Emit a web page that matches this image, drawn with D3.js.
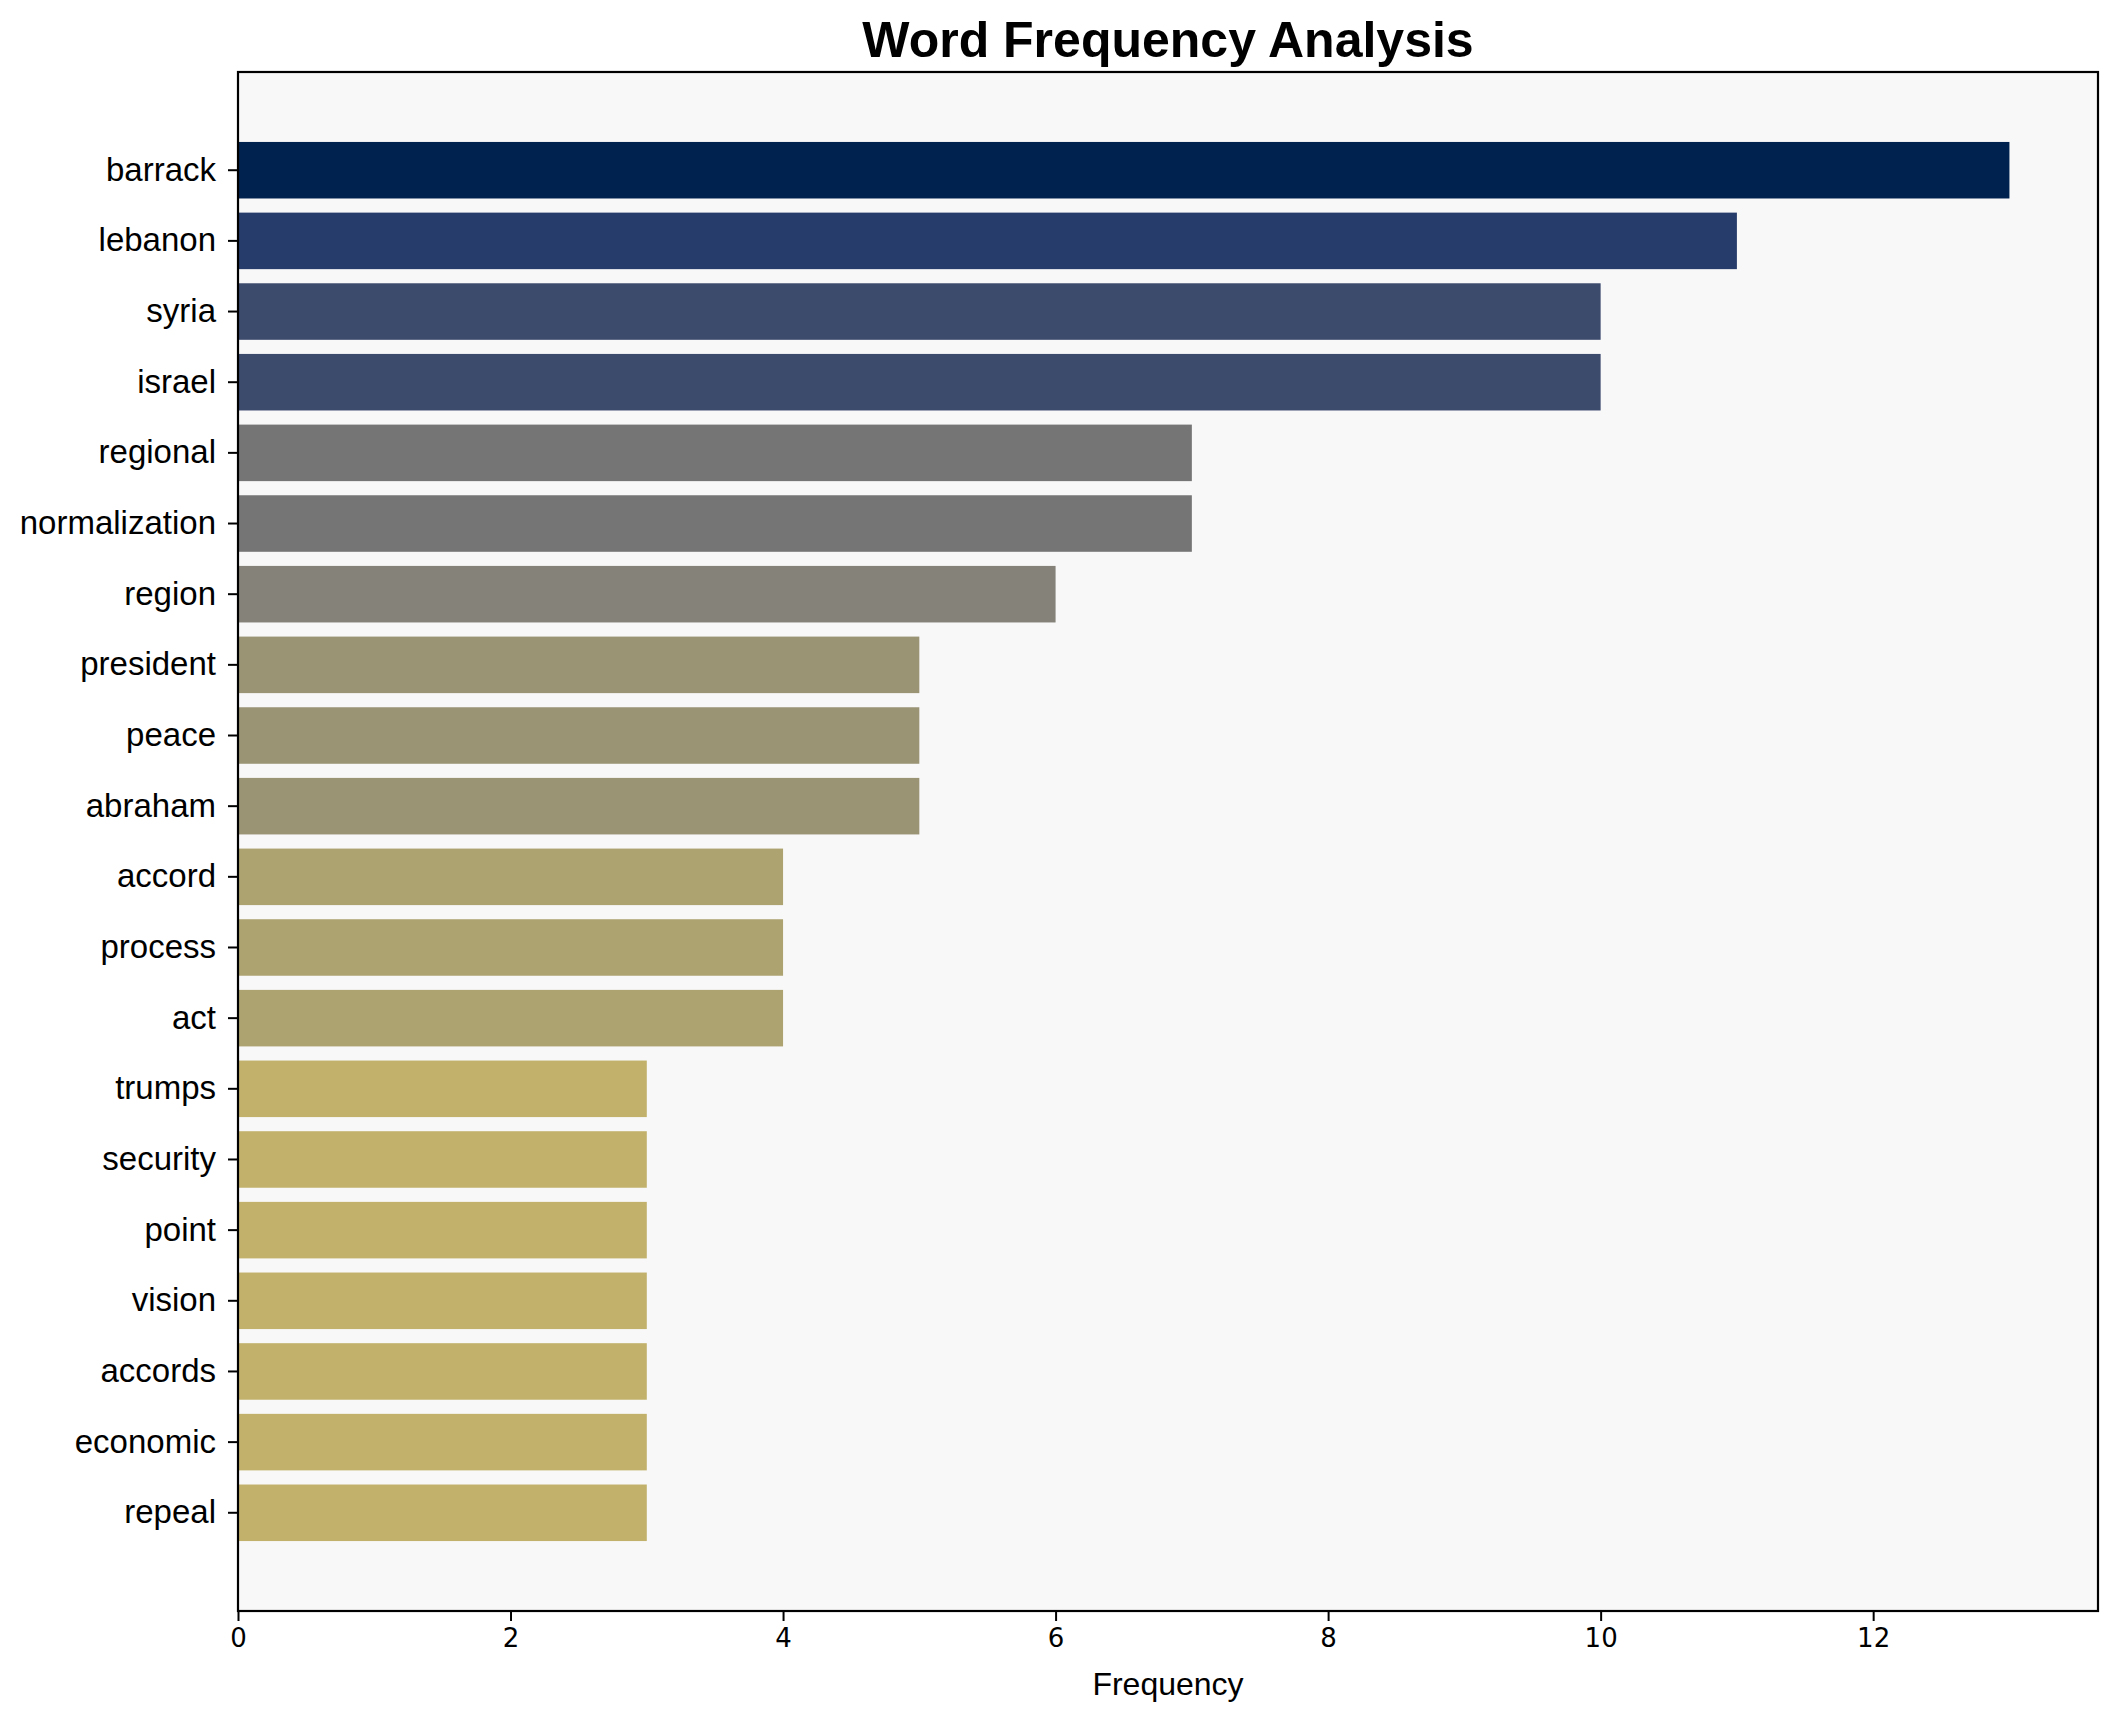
<!DOCTYPE html>
<html>
<head>
<meta charset="utf-8">
<script src="https://cdn.jsdelivr.net/npm/d3@7"></script>
<style>
html,body{margin:0;padding:0;background:#fff;}
svg{display:block;}
</style>
</head>
<body>
<script>
const words = ["barrack","lebanon","syria","israel","regional","normalization","region","president","peace","abraham","accord","process","act","trumps","security","point","vision","accords","economic","repeal"];
const counts = [13,11,10,10,7,7,6,5,5,5,4,4,4,3,3,3,3,3,3,3];
const xTicks = [0,2,4,6,8,10,12];
const titleText = "Word Frequency Analysis";
const xLabelText = "Frequency";

(function(){
const W = 2117, H = 1722;
const pL = 238, pR = 2098, pT = 72, pB = 1611;

const svg = d3.select("body").append("svg").attr("width", W).attr("height", H);
svg.append("rect").attr("width", W).attr("height", H).attr("fill", "#ffffff");

const maxV = d3.max(counts);
const x = d3.scaleLinear().domain([0, maxV * 1.05]).range([pL, pR]);
const y = d3.scaleBand().domain(words).range([pT, pB]).paddingInner(0.2).paddingOuter(0.99);

// cividis-like palette keyed by count
const color = d3.scaleOrdinal()
  .domain([13, 11, 10, 7, 6, 5, 4, 3])
  .range(["#00224e", "#263c6b", "#3c4a6c", "#757575", "#858279", "#9a9475", "#ada371", "#c1b16b"]);

svg.append("rect").attr("x", pL).attr("y", pT).attr("width", pR - pL).attr("height", pB - pT).attr("fill", "#f8f8f8");

const data = words.map((w, i) => ({w, v: counts[i]}));
svg.append("g").selectAll("rect").data(data).join("rect")
  .attr("x", x(0))
  .attr("y", d => y(d.w))
  .attr("width", d => x(d.v) - x(0))
  .attr("height", y.bandwidth())
  .attr("fill", d => color(d.v));

const xAxis = svg.append("g").attr("transform", `translate(0,${pB})`)
  .call(d3.axisBottom(x).tickValues(xTicks).tickSize(10).tickPadding(8).tickFormat(d3.format("d")));
xAxis.select(".domain").remove();
xAxis.selectAll(".tick line").attr("stroke", "#000").attr("stroke-width", 2);
xAxis.selectAll(".tick text").attr("font-family", "DejaVu Sans").attr("font-size", 26).attr("fill", "#000");

const yAxis = svg.append("g").attr("transform", `translate(${pL},0)`)
  .call(d3.axisLeft(y).tickSize(10).tickPadding(12));
yAxis.select(".domain").remove();
yAxis.selectAll(".tick line").attr("stroke", "#000").attr("stroke-width", 2);
yAxis.selectAll(".tick text").attr("font-family", "Liberation Sans, Arial, sans-serif").attr("font-size", 33).attr("fill", "#000");

svg.append("rect").attr("x", pL).attr("y", pT).attr("width", pR - pL).attr("height", pB - pT)
  .attr("fill", "none").attr("stroke", "#000").attr("stroke-width", 2.2);

svg.append("text").attr("x", (pL + pR) / 2).attr("y", 57).attr("text-anchor", "middle")
  .attr("font-family", "Liberation Sans, Arial, sans-serif").attr("font-weight", "bold").attr("font-size", 50)
  .attr("fill", "#000").text(titleText);

svg.append("text").attr("x", (pL + pR) / 2).attr("y", 1695).attr("text-anchor", "middle")
  .attr("font-family", "Liberation Sans, Arial, sans-serif").attr("font-size", 32)
  .attr("fill", "#000").text(xLabelText);
})();
</script>
</body>
</html>
